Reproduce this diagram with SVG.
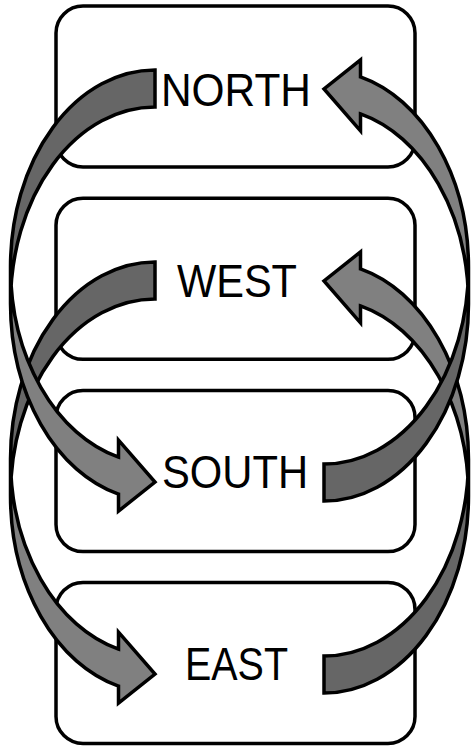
<svg xmlns="http://www.w3.org/2000/svg" xmlns:xlink="http://www.w3.org/1999/xlink" width="471" height="748" viewBox="0 0 471 748">
<style>
.box{fill:#fff;stroke:#000;stroke-width:3.5}
.lbl{font-family:"Liberation Sans",Arial,sans-serif;font-size:46px;fill:#000;text-anchor:middle}
.dark{fill:#666666}
.light{fill:#808080}
.edge{fill:none;stroke:#000;stroke-width:3.5;stroke-linejoin:miter}
</style>
<defs>
<g id="curvedArrow">
<path class="dark" d="M155 70 A144.5 196.75 0 0 0 10.5 266.75 L10.5 303.75 A144.5 196.75 0 0 1 155 107 Z"/>
<path class="light" d="M10.5 266.75 A144.5 196.75 0 0 0 118.5 457.1 L118.5 440.1 L155 482 L118.5 511.1 L118.5 494.1 A144.5 196.75 0 0 1 10.5 303.75 Z"/>
<path class="edge" d="M10.5 266.75 A144.5 196.75 0 0 0 118.5 457.1 L118.5 440.1 L155 482 L118.5 511.1 L118.5 494.1 A144.5 196.75 0 0 1 10.5 303.75 L10.5 266.75 A144.5 196.75 0 0 1 155 70 L155 107 A144.5 196.75 0 0 0 10.5 303.75"/>
</g>
</defs>
<g id="north">
<rect class="box" x="56" y="6" width="359" height="161" rx="27" ry="27"/>
<text class="lbl" x="236" y="106" textLength="150" lengthAdjust="spacingAndGlyphs">NORTH</text>
</g>
<g id="west">
<rect class="box" x="56" y="198.3" width="359" height="161" rx="27" ry="27"/>
<text class="lbl" x="237" y="297" textLength="120" lengthAdjust="spacingAndGlyphs">WEST</text>
</g>
<g id="south">
<rect class="box" x="56" y="390.6" width="359" height="161" rx="27" ry="27"/>
<text class="lbl" x="235" y="488" textLength="146" lengthAdjust="spacingAndGlyphs">SOUTH</text>
</g>
<g id="east">
<rect class="box" x="56" y="582.4" width="359" height="161" rx="27" ry="27"/>
<text class="lbl" x="236.5" y="680" textLength="103" lengthAdjust="spacingAndGlyphs">EAST</text>
</g>
<g id="connectors">
<use id="west-to-east" xlink:href="#curvedArrow" transform="translate(0 192)"/>
<use id="east-to-west" xlink:href="#curvedArrow" transform="translate(0 192) rotate(180 239.5 285.5)"/>
<use id="north-to-south" xlink:href="#curvedArrow"/>
<use id="south-to-north" xlink:href="#curvedArrow" transform="rotate(180 239.5 285.5)"/>
</g>
</svg>
